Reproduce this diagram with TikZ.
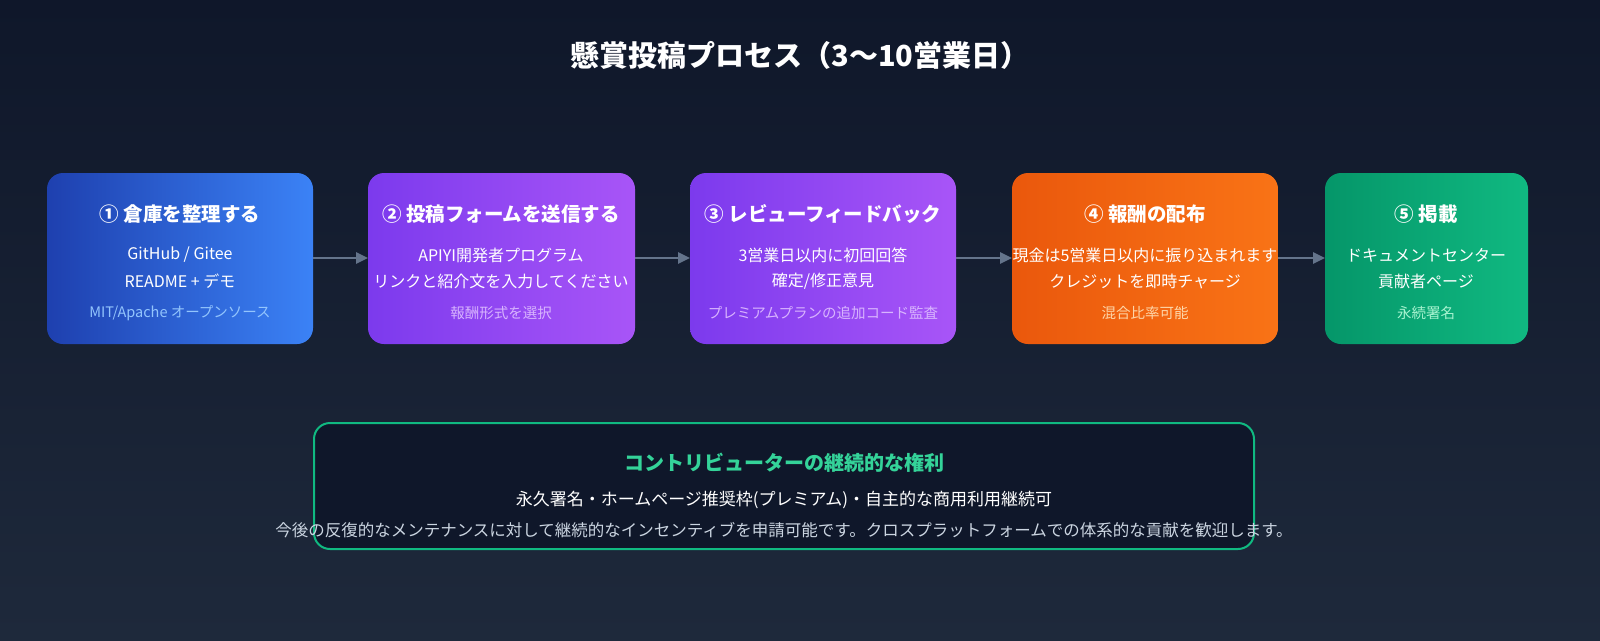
\documentclass[tikz,border=0pt]{standalone}
\usepackage{fontspec}
\setmainfont{Noto Sans CJK JP}
\usetikzlibrary{arrows.meta}
\definecolor{bgA}{HTML}{0F172A}
\definecolor{bgB}{HTML}{1E293B}
\definecolor{arr}{HTML}{64748B}
\definecolor{grn}{HTML}{10B981}
\definecolor{grnT}{HTML}{34D399}
\begin{document}
\begin{tikzpicture}[x=1pt,y=-1pt,
  ttl/.style={font=\fontsize{19.5}{21}\selectfont\bfseries,text=white},
  bod/.style={font=\fontsize{16}{18}\selectfont,text=white},
  sub/.style={font=\fontsize{14.5}{16}\selectfont},
  conn/.style={arr,line width=2.5pt,-{Triangle[length=12pt,width=11pt]}}]
\shade[top color=bgA,bottom color=bgB] (0,0) rectangle (1600,640);
\useasboundingbox (0,0) rectangle (1600,640);
\node[font=\fontsize{29}{31}\selectfont\bfseries,text=white] (title) at (800,55) {懸賞投稿プロセス（3〜10営業日）};
% boxes
\shade[rounded corners=16pt,left color={rgb,255:red,30;green,64;blue,175},right color={rgb,255:red,59;green,130;blue,246}] (47,173) rectangle (313,344);
\shade[rounded corners=16pt,left color={rgb,255:red,124;green,58;blue,237},right color={rgb,255:red,168;green,85;blue,247}] (368,173) rectangle (635,344);
\shade[rounded corners=16pt,left color={rgb,255:red,124;green,58;blue,237},right color={rgb,255:red,168;green,85;blue,247}] (690,173) rectangle (956,344);
\shade[rounded corners=16pt,left color={rgb,255:red,234;green,88;blue,12},right color={rgb,255:red,249;green,115;blue,22}] (1012,173) rectangle (1278,344);
\shade[rounded corners=16pt,left color={rgb,255:red,5;green,150;blue,105},right color={rgb,255:red,16;green,185;blue,129}] (1325,173) rectangle (1528,344);
\node (a1) at (313,258) {}; \node (a2) at (368,258) {};
\node (a3) at (635,258) {}; \node (a4) at (690,258) {};
\node (a5) at (956,258) {}; \node (a6) at (1012,258) {};
\node (a7) at (1278,258) {}; \node (a8) at (1325,258) {};
\draw[conn] (a1.center) -- (a2.center);
\draw[conn] (a3.center) -- (a4.center);
\draw[conn] (a5.center) -- (a6.center);
\draw[conn] (a7.center) -- (a8.center);
% texts
\node[ttl] (t1) at (180,214) {① 倉庫を整理する};
\node[bod] (l11) at (180,255) {GitHub / Gitee};
\node[bod] (l12) at (180,281) {README + デモ};
\node[sub,text={rgb,255:red,147;green,197;blue,253}] (s1) at (180,313) {MIT/Apache オープンソース};
\node[ttl] (t2) at (501,214) {② 投稿フォームを送信する};
\node[bod] (l21) at (501,255) {APIYI開発者プログラム};
\node[bod] (l22) at (501,281) {リンクと紹介文を入力してください};
\node[sub,text={rgb,255:red,216;green,180;blue,254}] (s2) at (501,313) {報酬形式を選択};
\node[ttl] (t3) at (823,214) {③ レビューフィードバック};
\node[bod] (l31) at (823,255) {3営業日以内に初回回答};
\node[bod] (l32) at (823,281) {確定/修正意見};
\node[sub,text={rgb,255:red,216;green,180;blue,254}] (s3) at (823,313) {プレミアムプランの追加コード監査};
\node[ttl] (t4) at (1145,214) {④ 報酬の配布};
\node[bod] (l41) at (1145,255) {現金は5営業日以内に振り込まれます};
\node[bod] (l42) at (1145,281) {クレジットを即時チャージ};
\node[sub,text={rgb,255:red,254;green,215;blue,170}] (s4) at (1145,313) {混合比率可能};
\node[ttl] (t5) at (1426,214) {⑤ 掲載};
\node[bod] (l51) at (1426,255) {ドキュメントセンター};
\node[bod] (l52) at (1426,281) {貢献者ページ};
\node[sub,text={rgb,255:red,167;green,243;blue,208}] (s5) at (1426,313) {永続署名};
% bottom
\draw[grn,line width=2pt,rounded corners=16pt,fill=bgA] (314,423) rectangle (1254,549);
\node[font=\fontsize{20}{22}\selectfont\bfseries,text=grnT] (bt) at (784,463) {コントリビューターの継続的な権利};
\node[font=\fontsize{17}{19}\selectfont,text=white] (bl1) at (784,500) {永久署名・ホームページ推奨枠(プレミアム)・自主的な商用利用継続可};
\node[font=\fontsize{16.5}{18}\selectfont,text={rgb,255:red,203;green,213;blue,225}] (bl2) at (784,530) {今後の反復的なメンテナンスに対して継続的なインセンティブを申請可能です。クロスプラットフォームでの体系的な貢献を歓迎します。};
\end{tikzpicture}
\end{document}
